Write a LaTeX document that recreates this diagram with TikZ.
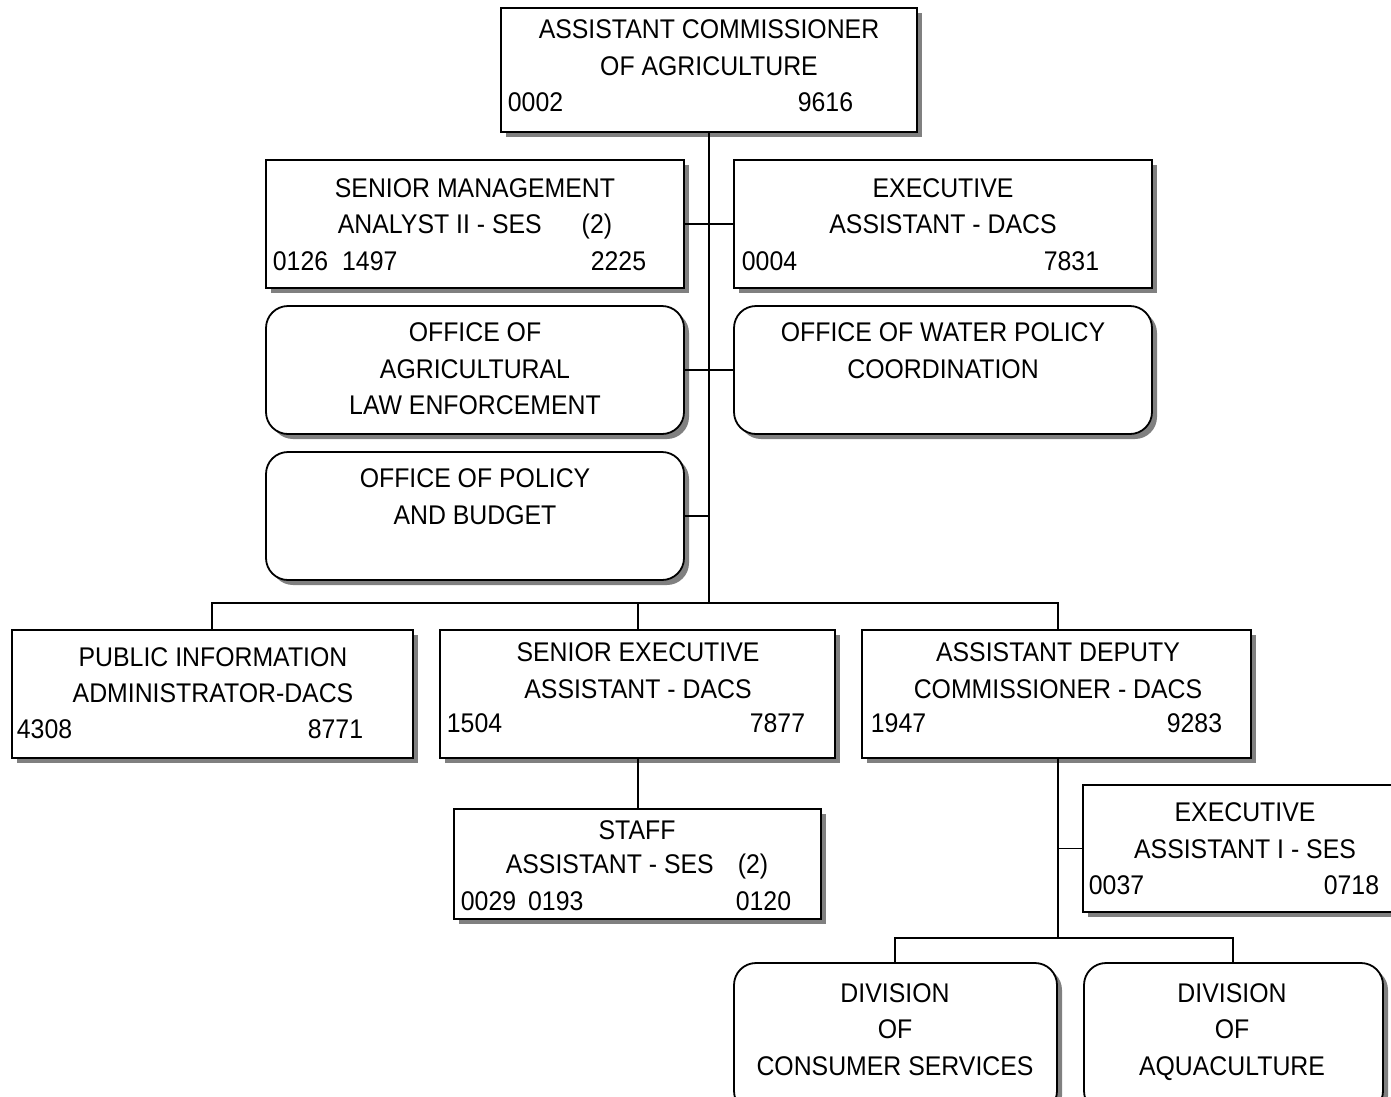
\documentclass[tikz,border=0pt]{standalone}
\usepackage{fontspec}
\setmainfont{Liberation Sans}[FakeStretch=0.92]
\usetikzlibrary{shadows}
\begin{document}
\begin{tikzpicture}[x=1pt,y=-1pt,
  line width=1.8pt,
  box/.style={draw=black, fill=white, rectangle, inner sep=0pt, outer sep=0pt,
    drop shadow={shadow xshift=5pt, shadow yshift=-5pt, fill=black!50, opacity=1}},
  sqbox/.style={box},
  rndbox/.style={box, rounded corners=22pt},
  lbl/.style={font=\fontsize{27pt}{30pt}\selectfont, inner sep=0pt, anchor=base},
  lft/.style={lbl, anchor=base west},
  rgt/.style={lbl, anchor=base east},
  link/.style={draw=black, line width=1.8pt}
]
\useasboundingbox (0,0) rectangle (1391,1096);
\clip (0,0) rectangle (1391,1096);

% ---- boxes ----
\node[sqbox, minimum width=416pt, minimum height=124pt] (top) at (709,70) {};
\node[sqbox, minimum width=418pt, minimum height=128pt] (sm)  at (475,224) {};
\node[sqbox, minimum width=418pt, minimum height=128pt] (ea)  at (943,224) {};
\node[rndbox, minimum width=418pt, minimum height=128pt] (oale) at (475,370) {};
\node[rndbox, minimum width=418pt, minimum height=128pt] (owpc) at (943,370) {};
\node[rndbox, minimum width=418pt, minimum height=128pt] (opb)  at (475,516) {};
\node[sqbox, minimum width=401pt, minimum height=128pt] (pia) at (212.5,694) {};
\node[sqbox, minimum width=395pt, minimum height=128pt] (sea) at (637.5,694) {};
\node[sqbox, minimum width=389pt, minimum height=128pt] (adc) at (1056.5,694) {};
\node[sqbox, minimum width=367pt, minimum height=110pt] (staff) at (637.5,864) {};
\node[sqbox, minimum width=320pt, minimum height=127pt] (eai) at (1243,848.5) {};
\node[rndbox, minimum width=323pt, minimum height=150pt] (dcs) at (895.5,1038) {};
\node[rndbox, minimum width=299pt, minimum height=150pt] (daq) at (1233.5,1038) {};

% ---- connectors ----
\coordinate (j1) at (709,603);
\coordinate (j2) at (1058,938);
\draw[link] (top.south) -- (j1);
\draw[link] (sm.east) -- (sm.east -| top.south);
\draw[link] (ea.west) -- (ea.west -| top.south);
\draw[link] (oale.east) -- (owpc.west);
\draw[link] (opb.east) -- (opb.east -| top.south);
\draw[link] (pia.north -| 212,0) |- (j1) -| (1058,630);
\draw[link] (sea.north -| 638,0) -- (638,603);
\draw[link] (638,758) -- (staff.north -| 638,0);
\draw[link] (1058,758) -- (j2);
\draw[link] (eai.west) -- (eai.west -| j2);
\draw[link] (dcs.north -| 895,0) |- (j2) -| (daq.north -| 1233,0);

% ---- texts ----
\node[lbl] (top-a) at (709,38) {ASSISTANT COMMISSIONER};
\node[lbl] (top-b) at (709,75) {OF AGRICULTURE};
\node[lft] (top-c) at (507,111) {0002};
\node[rgt] (top-d) at (854,111) {9616};

\node[lbl] (sm-a) at (475,197) {SENIOR MANAGEMENT};
\node[lbl] (sm-b) at (475,233) {ANALYST II - SES\hspace{40pt}(2)};
\node[lft] (sm-c) at (272,270) {0126\hspace{14pt}1497};
\node[rgt] (sm-d) at (647,270) {2225};

\node[lbl] (ea-a) at (943,197) {EXECUTIVE};
\node[lbl] (ea-b) at (943,233) {ASSISTANT - DACS};
\node[lft] (ea-c) at (741,270) {0004};
\node[rgt] (ea-d) at (1100,270) {7831};

\node[lbl] (oale-a) at (475,341) {OFFICE OF};
\node[lbl] (oale-b) at (475,378) {AGRICULTURAL};
\node[lbl] (oale-c) at (475,414) {LAW ENFORCEMENT};

\node[lbl] (owpc-a) at (943,341) {OFFICE OF WATER POLICY};
\node[lbl] (owpc-b) at (943,378) {COORDINATION};

\node[lbl] (opb-a) at (475,487) {OFFICE OF POLICY};
\node[lbl] (opb-b) at (475,524) {AND BUDGET};

\node[lbl] (pia-a) at (213,666) {PUBLIC INFORMATION};
\node[lbl] (pia-b) at (213,702) {ADMINISTRATOR-DACS};
\node[lft] (pia-c) at (16,738) {4308};
\node[rgt] (pia-d) at (364,738) {8771};

\node[lbl] (sea-a) at (638,661) {SENIOR EXECUTIVE};
\node[lbl] (sea-b) at (638,698) {ASSISTANT - DACS};
\node[lft] (sea-c) at (446,732) {1504};
\node[rgt] (sea-d) at (806,732) {7877};

\node[lbl] (adc-a) at (1058,661) {ASSISTANT DEPUTY};
\node[lbl] (adc-b) at (1058,698) {COMMISSIONER - DACS};
\node[lft] (adc-c) at (870,732) {1947};
\node[rgt] (adc-d) at (1223,732) {9283};

\node[lbl] (staff-a) at (637,839) {STAFF};
\node[lbl] (staff-b) at (637,873) {ASSISTANT - SES\hspace{24pt}(2)};
\node[lft] (staff-c) at (460,910) {0029\hspace{12pt}0193};
\node[rgt] (staff-d) at (792,910) {0120};

\node[lbl] (eai-a) at (1245,821) {EXECUTIVE};
\node[lbl] (eai-b) at (1245,858) {ASSISTANT I - SES};
\node[lft] (eai-c) at (1088,894) {0037};
\node[rgt] (eai-d) at (1380,894) {0718};

\node[lbl] (dcs-a) at (895,1002) {DIVISION};
\node[lbl] (dcs-b) at (895,1038) {OF};
\node[lbl] (dcs-c) at (895,1075) {CONSUMER SERVICES};

\node[lbl] (daq-a) at (1232,1002) {DIVISION};
\node[lbl] (daq-b) at (1232,1038) {OF};
\node[lbl] (daq-c) at (1232,1075) {AQUACULTURE};
\end{tikzpicture}
\end{document}
